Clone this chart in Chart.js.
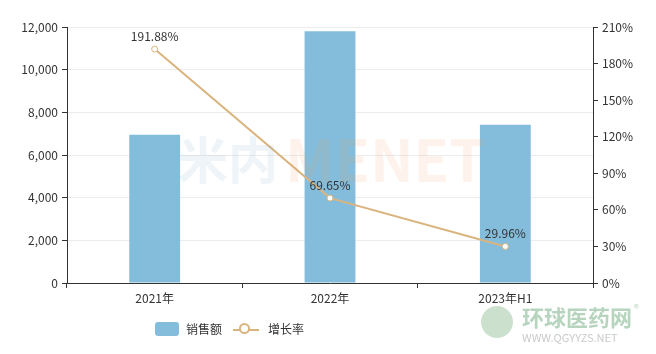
<!DOCTYPE html>
<html>
<head>
<meta charset="utf-8">
<script src="https://cdn.jsdelivr.net/npm/chart.js@4/dist/chart.umd.min.js"></script>
<style>
  body { margin: 0; background: #fff; }
  #wrap { position: relative; width: 656px; height: 354px; }
  #legend { position: absolute; top: 320px; left: 155px; font: 12px "Noto Sans CJK SC", sans-serif; color: #333; display: flex; align-items: center; }
  .box { width: 24px; height: 14px; border-radius: 3px; background: #84bddb; margin-right: 7px; }
  .ln { position: relative; width: 26px; height: 14px; margin: 0 9px 0 11px; }
  .ln::before { content: ""; position: absolute; left: 0; right: 0; top: 7px; height: 2px; background: #dab47e; }
  .ln::after { content: ""; position: absolute; left: 6px; top: 1px; width: 11px; height: 11px; border: 2px solid #dab47e; border-radius: 50%; background: #fff; box-sizing: border-box; }
</style>
</head>
<body>
<div id="wrap">
  <canvas id="chart" width="656" height="354"></canvas>
  <div id="legend"><span class="box"></span><span>销售额</span><span class="ln"></span><span>增长率</span></div>
</div>
<script>
const categories = ["2021年", "2022年", "2023年H1"];
const sales = [6950, 11800, 7420];
const growth = [191.88, 69.65, 29.96];
const growthLabels = ["191.88%", "69.65%", "29.96%"];

const FONT = '"Noto Sans CJK SC", "Noto Sans", sans-serif';
Chart.defaults.font.family = FONT;
Chart.defaults.font.size = 12;
Chart.defaults.color = "#333";

// 折线上方的数值标签
const pointLabels = {
  id: "pointLabels",
  afterDatasetsDraw(chart) {
    const ctx = chart.ctx;
    const meta = chart.getDatasetMeta(1);
    ctx.save();
    ctx.font = "12px " + FONT;
    ctx.fillStyle = "#333";
    ctx.textAlign = "center";
    ctx.textBaseline = "bottom";
    meta.data.forEach((pt, i) => {
      ctx.fillText(growthLabels[i], pt.x, pt.y - 7);
    });
    ctx.restore();
  }
};

// 水印
const watermark = {
  id: "watermark",
  afterDraw(chart) {
    const ctx = chart.ctx;
    ctx.save();
    ctx.textBaseline = "middle";
    ctx.globalAlpha = 0.12;
    ctx.font = "bold 50px " + FONT;
    ctx.fillStyle = "#7fa8c8";
    ctx.fillText("米内", 178, 160);
    ctx.fillStyle = "#f0a060";
    ctx.font = "bold 58px " + FONT;
    ctx.fillText("MENET", 285, 160);
    ctx.globalAlpha = 0.55;
    ctx.fillStyle = "#7bb08a";
    ctx.font = "bold 22px " + FONT;
    ctx.fillText("环球医药网", 522, 318);
    ctx.font = "10px " + FONT;
    ctx.fillText("®", 634, 308);
    ctx.fillStyle = "#9aa09c";
    ctx.font = "11px " + FONT;
    ctx.fillText("WWW.QGYYZS.NET", 522, 338);
    ctx.globalAlpha = 0.35;
    ctx.fillStyle = "#6aa86f";
    ctx.beginPath();
    ctx.arc(497, 322, 16, 0, Math.PI * 2);
    ctx.fill();
    ctx.restore();
  }
};

new Chart(document.getElementById("chart"), {
  plugins: [pointLabels, watermark],
  data: {
    labels: categories,
    datasets: [
      {
        type: "bar",
        label: "销售额",
        data: sales,
        backgroundColor: "#84bddb",
        barPercentage: 0.29,
        categoryPercentage: 1,
        yAxisID: "y",
        order: 2
      },
      {
        type: "line",
        label: "增长率",
        data: growth,
        borderColor: "#dab47e",
        borderWidth: 2,
        pointRadius: 3,
        pointBorderWidth: 1,
        pointBackgroundColor: "#fff",
        pointBorderColor: "#dab47e",
        tension: 0,
        yAxisID: "y1",
        order: 1
      }
    ]
  },
  options: {
    responsive: false,
    animation: false,
    layout: { padding: { top: 27, bottom: 44, left: 0, right: 0 } },
    plugins: { legend: { display: false }, tooltip: { enabled: false } },
    scales: {
      x: {
        offset: true,
        grid: { offset: true, drawOnChartArea: false, tickColor: "#333", tickLength: 5 },
        border: { color: "#333" },
        ticks: { padding: 3, color: "#333" },
        afterFit: s => { s.height = 27; }
      },
      y: {
        position: "left",
        min: 0, max: 12000,
        ticks: { stepSize: 2000, padding: 4, color: "#333", callback: v => v.toLocaleString("en-US") },
        grid: { color: "#ececec", tickColor: "#333", tickLength: 5 },
        border: { color: "#333" },
        afterFit: s => { s.width = 67; }
      },
      y1: {
        position: "right",
        min: 0, max: 210,
        ticks: { stepSize: 30, padding: 4, color: "#333", callback: v => v + "%" },
        grid: { drawOnChartArea: false, tickColor: "#333", tickLength: 5 },
        border: { color: "#333" },
        afterFit: s => { s.width = 63; }
      }
    }
  }
});
</script>
</body>
</html>
